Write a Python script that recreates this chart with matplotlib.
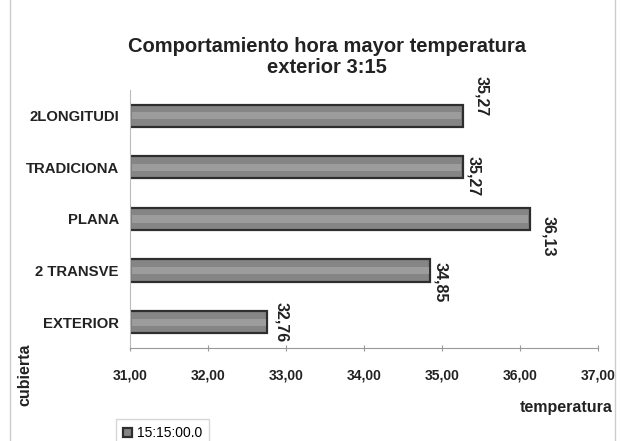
import matplotlib.pyplot as plt
from matplotlib.patches import Rectangle

plt.rcParams['font.family'] = ['Liberation Sans', 'DejaVu Sans']

cubiertas = ['EXTERIOR', '2 TRANSVE', 'PLANA', 'TRADICIONA', '2LONGITUDI']
temps = [32.76, 34.85, 36.13, 35.27, 35.27]
etiquetas = ['32,76', '34,85', '36,13', '35,27', '35,27']
xticks = [31, 32, 33, 34, 35, 36, 37]
xticklabels = ['31,00', '32,00', '33,00', '34,00', '35,00', '36,00', '37,00']
serie = '15:15:00.0'

fig = plt.figure(figsize=(6.22, 4.41), dpi=100)
ax = fig.add_axes([0.209, 0.211, 0.752, 0.585])

ax.barh(range(len(cubiertas)), [t - 31 for t in temps], left=31, height=0.43,
        color='#858585', edgecolor='#2e2e2e', linewidth=1.6, label=serie)
# lighter stripe for the cylinder look
ax.barh(range(len(cubiertas)), [t - 31.04 for t in temps], left=31.02, height=0.14,
        color='#9c9c9c', linewidth=0)

# data labels, rotated like the original (offsets in points)
offs = [(5, 0, 'center'), (2, 6, 'top'), (8, 2, 'top'), (2, 8, 'top'), (8, 0, 'bottom')]
for i, (t, lab) in enumerate(zip(temps, etiquetas)):
    dx, dy, va = offs[i]
    ax.annotate(lab, (t, i), xytext=(dx, dy), textcoords='offset points',
                rotation=270, ha='left', va=va, fontsize=11.5, fontweight='bold',
                color='#222222')

ax.set_xlim(31, 37)
ax.set_ylim(-0.5, 4.5)
ax.set_xticks(xticks)
ax.set_xticklabels(xticklabels, fontsize=10, fontweight='bold', color='#222222')
ax.set_yticks(range(len(cubiertas)))
ax.set_yticklabels(cubiertas, fontsize=10.7, fontweight='bold', color='#222222')
ax.tick_params(axis='y', length=0, pad=8)
ax.tick_params(axis='x', direction='inout', length=5, color='#999999', pad=12)
for s in ['top', 'right']:
    ax.spines[s].set_visible(False)
ax.spines['left'].set_color('#bbbbbb')
ax.spines['bottom'].set_color('#999999')

fig.text(0.525, 0.87, 'Comportamiento hora mayor temperatura\nexterior 3:15',
         ha='center', va='center', fontsize=14.5, fontweight='bold',
         linespacing=1.15, color='#222222')
fig.text(0.04, 0.15, 'cubierta', rotation=90, ha='center', va='center',
         fontsize=11.5, fontweight='bold', color='#222222')
fig.text(0.985, 0.075, 'temperatura', ha='right', va='center',
         fontsize=11.5, fontweight='bold', color='#222222')

fig.legend(loc='lower left', bbox_to_anchor=(0.175, -0.03), fontsize=10,
           handlelength=0.7, handleheight=0.7, handletextpad=0.3,
           fancybox=False, edgecolor='#cccccc', borderpad=0.5)

fig.patches.append(Rectangle((0.016, -0.01), 0.973, 1.05, transform=fig.transFigure,
                             fill=False, edgecolor='#cccccc', linewidth=1))

plt.savefig('out.png', dpi=100)
